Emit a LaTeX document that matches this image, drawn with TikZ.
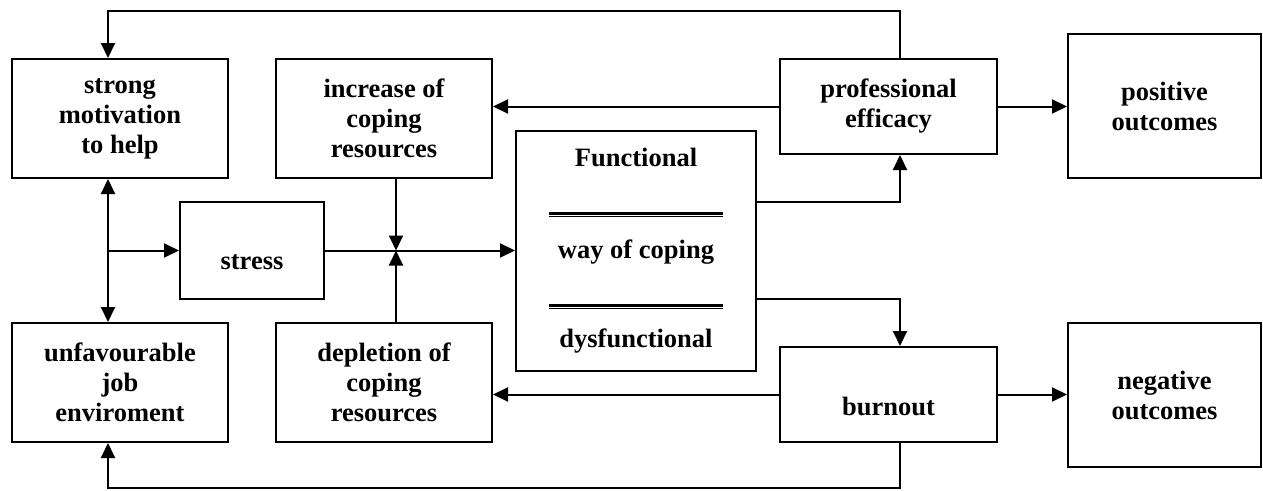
\documentclass[tikz,border=0pt]{standalone}
\usepackage{fontspec}
\setmainfont{Liberation Serif}
\usetikzlibrary{arrows.meta}
\begin{document}
\begin{tikzpicture}[x=1pt,y=-1pt,
  box/.style={draw, line width=2pt, inner sep=0pt, align=center, font=\fontsize{26.5}{30}\selectfont\bfseries},
  txt/.style={inner sep=0pt, align=center, font=\fontsize{26.5}{30}\selectfont\bfseries},
  conn/.style={line width=2pt},
  arr/.style={conn, -{Triangle[length=15pt,width=14pt]}},
  barr/.style={conn, {Triangle[length=15pt,width=14pt]}-{Triangle[length=15pt,width=14pt]}}]
\useasboundingbox (0,0) rectangle (1263,490);
% boxes
\node[box, minimum width=216pt, minimum height=119pt] (strong) at (120,118.5) {strong\\motivation\\to help};
\node[box, minimum width=216pt, minimum height=119pt] (increase) at (384,118.5) {increase of\\coping\\resources};
\node[box, minimum width=217pt, minimum height=95pt] (efficacy) at (888.5,106.5) {professional\\efficacy};
\node[box, minimum width=193pt, minimum height=144pt] (positive) at (1164.5,106) {positive\\outcomes};
\node[box, minimum width=144pt, minimum height=97pt] (stress) at (252,250.5) {};
\node[box, minimum width=240pt, minimum height=240pt] (functional) at (636,251) {};
\node[box, minimum width=216pt, minimum height=119pt] (unfav) at (120,382.5) {unfavourable\\job\\enviroment};
\node[box, minimum width=216pt, minimum height=119pt] (depletion) at (384,382.5) {depletion of\\coping\\resources};
\node[box, minimum width=217pt, minimum height=95pt] (burnout) at (888.5,394.5) {};
\node[box, minimum width=193pt, minimum height=144pt] (negative) at (1164.5,395) {negative\\outcomes};
% texts placed in boxes
\node[txt] (tstress) at (252,262) {stress};
\node[txt] (tburn) at (888.5,406) {burnout};
\node[txt] (tfun) at (636,157) {Functional};
\node[txt] (tway) at (636,252) {way of coping};
\node[txt] (tdys) at (636,341) {dysfunctional};
% double rules
\draw[line width=2.7pt] (549,213.3) -- (723,213.3);
\draw[line width=1.3pt] (549,216.7) -- (723,216.7);
\draw[line width=2.7pt] (549,305.3) -- (723,305.3);
\draw[line width=1.3pt] (549,308.7) -- (723,308.7);
% helper coordinates
\coordinate (xl) at (108,10.5);
\coordinate (xr) at (900,10.5);
\coordinate (bl) at (108,488);
\coordinate (br) at (900,488);
\coordinate (jn) at (396,250.5);
\coordinate (br1) at (108,250.5);
\coordinate (fu) at (756,202);
\coordinate (fd) at (756,299);
% connectors
\draw[arr] (efficacy.north -| xr) -- (xr) -- (xl) -- (strong.north -| xl);
\draw[arr] (efficacy.west) -- (increase.east |- efficacy.west);
\draw[arr] (efficacy.east) -- (positive.west |- efficacy.east);
\draw[arr] (functional.east |- fu) -| (efficacy.south -| xr);
\draw[arr] (functional.east |- fd) -| (burnout.north -| xr);
\draw[arr] (burnout.east) -- (negative.west |- burnout.east);
\draw[arr] (burnout.west) -- (depletion.east |- burnout.west);
\draw[arr] (burnout.south -| br) -- (br) -- (bl) -- (unfav.south -| bl);
\draw[barr] (strong.south -| xl) -- (unfav.north -| xl);
\draw[arr] (br1) -- (stress.west |- br1);
\draw[arr] (stress.east) -- (functional.west |- stress.east);
\draw[arr] (increase.south -| jn) -- (jn);
\draw[arr] (depletion.north -| jn) -- (jn);
\end{tikzpicture}
\end{document}
